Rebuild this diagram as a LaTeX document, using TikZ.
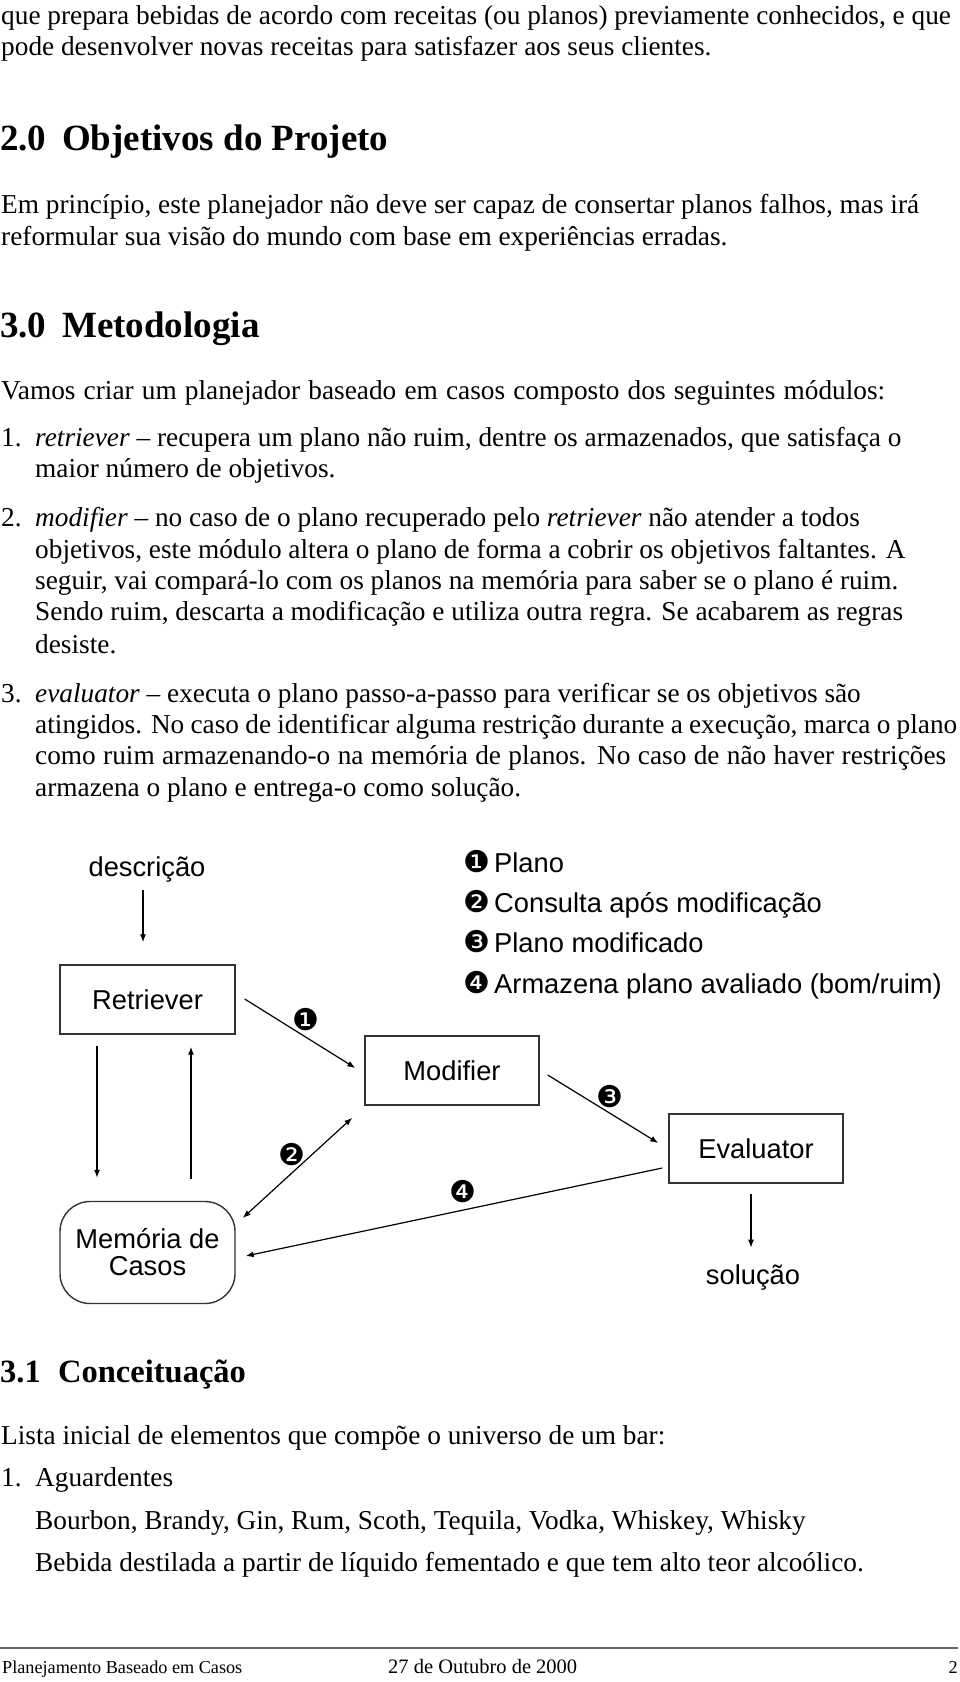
\documentclass[tikz,border=0pt]{standalone}
\usepackage{fontspec}
\setmainfont{Liberation Serif}
\newfontfamily\arialf{Liberation Sans}
\newfontfamily\dingf{DejaVu Sans}
\usetikzlibrary{arrows.meta}
\newcommand{\dg}[1]{{\dingf\fontsize{30}{30}\selectfont #1}}
\newcommand{\lw}[2]{\hbox to #1pt{#2}}
\begin{document}
\begin{tikzpicture}[x=1pt,y=-1pt,
  body/.style={anchor=base west,inner sep=0pt,font=\fontsize{27.3}{31}\selectfont},
  head/.style={anchor=base west,inner sep=0pt,font=\bfseries\fontsize{37}{40}\selectfont},
  subhead/.style={anchor=base west,inner sep=0pt,font=\bfseries\fontsize{32.5}{36}\selectfont},
  foot/.style={anchor=base west,inner sep=0pt,font=\fontsize{18.2}{20}\selectfont},
  dtext/.style={inner sep=0pt,font=\arialf\fontsize{27.3}{27}\selectfont},
  box/.style={draw=black!80,line width=1.4pt,minimum width=175pt,minimum height=69pt,inner sep=0pt,font=\arialf\fontsize{27.3}{27}\selectfont},
  arr/.style={line width=1.2pt,-{Latex[length=8pt,width=6pt]}},
  darr/.style={line width=1.2pt,{Latex[length=8pt,width=6pt]}-{Latex[length=8pt,width=6pt]}},
  lbl/.style={inner sep=0pt}]
\useasboundingbox (0,0) rectangle (960,1682);
\fill[white] (0,0) rectangle (960,1682);

% ---- text above ----
\node[body] (t1) at (1,24) {que prepara bebidas de acordo com receitas (ou planos) previamente conhecidos, e que};
\node[body] (t2) at (1,55) {pode desenvolver novas receitas para satisfazer aos seus clientes.};
\node[head] (h2n) at (0,150) {2.0};
\node[head] (h2) at (62,150) {Objetivos do Projeto};
\node[body] (t3) at (1,213) {Em princípio, este planejador não deve ser capaz de consertar planos falhos, mas irá};
\node[body] (t4) at (1,245) {reformular sua visão do mundo com base em experiências erradas.};
\node[head] (h3n) at (0,337) {3.0};
\node[head] (h3) at (62,337) {Metodologia};
\node[body] (t5) at (1,399) {\lw{884}{Vamos criar um planejador baseado em casos composto dos seguintes módulos:}};
\node[body] (n1) at (1,446) {1.};
\node[body] (i1a) at (35,446) {\textit{retriever} – recupera um plano não ruim, dentre os armazenados, que satisfaça o};
\node[body] (i1b) at (35,477) {maior número de objetivos.};
\node[body] (n2) at (1,526) {2.};
\node[body] (i2a) at (35,526) {\textit{modifier} – no caso de o plano recuperado pelo \textit{retriever} não atender a todos};
\node[body] (i2b) at (35,558) {objetivos, este módulo altera o plano de forma a cobrir os objetivos faltantes. A};
\node[body] (i2c) at (35,589) {seguir, vai compará-lo com os planos na memória para saber se o plano é ruim.};
\node[body] (i2d) at (35,620) {Sendo ruim, descarta a modificação e utiliza outra regra. Se acabarem as regras};
\node[body] (i2e) at (35,653) {desiste.};
\node[body] (n3) at (1,702) {3.};
\node[body] (i3a) at (35,702) {\textit{evaluator} – executa o plano passo-a-passo para verificar se os objetivos são};
\node[body] (i3b) at (35,733) {\lw{922}{atingidos. No caso de identificar alguma restrição durante a execução, marca o plano}};
\node[body] (i3c) at (35,764) {\lw{911}{como ruim armazenando-o na memória de planos. No caso de não haver restrições}};
\node[body] (i3d) at (35,796) {armazena o plano e entrega-o como solução.};

% ---- diagram ----
\node[dtext,anchor=base] (desc) at (147,876) {descrição};
\node[box] (ret) at (147.5,999.5) {Retriever};
\node[box,minimum width=174pt] (mod) at (452,1070.5) {Modifier};
\node[box,minimum width=174pt] (ev) at (756,1148.5) {Evaluator};
\node[box,minimum height=102pt,rounded corners=30pt,align=center] (mem) at (147.5,1252.5) {Memória de\\Casos};
\node[dtext,anchor=base] (sol) at (753,1284) {solução};

\node[lbl] (g1) at (477,862) {\dg{❶}};
\node[lbl] (g2) at (477,902) {\dg{❷}};
\node[lbl] (g3) at (477,942) {\dg{❸}};
\node[lbl] (g4) at (477,983) {\dg{❹}};
\node[dtext,anchor=base west] (lg1) at (494,872) {Plano};
\node[dtext,anchor=base west] (lg2) at (494,912) {Consulta após modificação};
\node[dtext,anchor=base west] (lg3) at (494,952) {Plano modificado};
\node[dtext,anchor=base west] (lg4) at (494,993) {Armazena plano avaliado (bom/ruim)};

\draw[arr] ([shift={(-4.5,-74)}]ret.north) -- ([shift={(-4.5,-22)}]ret.north);
\draw[arr] ([shift={(-50.5,11)}]ret.south) -- ([shift={(-50.5,-23)}]mem.north);
\draw[arr] ([shift={(43.5,-22)}]mem.north) -- ([shift={(43.5,12)}]ret.south);
\draw[arr] ([shift={(9,-0.5)}]ret.east) -- ([shift={(-9,-2.5)}]mod.west);
\draw[darr] ([shift={(7,-34.5)}]mem.east) -- ([shift={(-12,12)}]mod.south west);
\draw[arr] ([shift={(8,4.5)}]mod.east) -- ([shift={(-10,-5.5)}]ev.west);
\draw[arr] ([shift={(-6,19.5)}]ev.west) -- ([shift={(10,3.5)}]mem.east);
\draw[arr] ([shift={(-5,10)}]ev.south) -- ([shift={(-5,64)}]ev.south);

\node[lbl] (l1) at (306,1020) {\dg{❶}};
\node[lbl] (l2) at (292,1155) {\dg{❷}};
\node[lbl] (l3) at (610,1097) {\dg{❸}};
\node[lbl] (l4) at (463,1192) {\dg{❹}};

% ---- text below ----
\node[subhead] (h31n) at (0,1382) {3.1};
\node[subhead] (h31) at (58,1382) {Conceituação};
\node[body] (t6) at (1,1444) {Lista inicial de elementos que compõe o universo de um bar:};
\node[body] (n4) at (1,1486) {1.};
\node[body] (a1) at (35,1486) {Aguardentes};
\node[body] (a2) at (35,1529) {Bourbon, Brandy, Gin, Rum, Scoth, Tequila, Vodka, Whiskey, Whisky};
\node[body] (a3) at (35,1571) {Bebida destilada a partir de líquido fementado e que tem alto teor alcoólico.};

% ---- footer ----
\coordinate (fl) at (0,1648);
\coordinate (fr) at (958,1648);
\draw[black!60,line width=1.8pt] (fl) -- (fr);
\node[foot] (f1) at (2,1673) {Planejamento Baseado em Casos};
\node[foot,font=\fontsize{20.5}{22}\selectfont] (f2) at (388,1673) {27 de Outubro de 2000};
\node[foot,anchor=base east] (f3) at (958,1673) {2};
\end{tikzpicture}
\end{document}
